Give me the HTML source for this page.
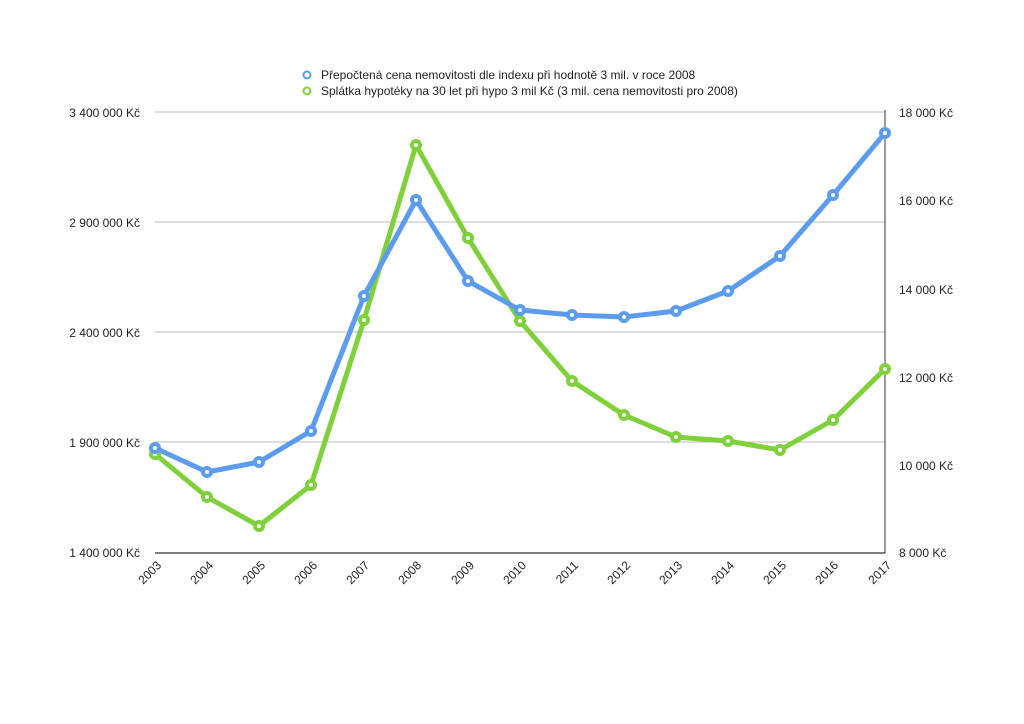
<!DOCTYPE html>
<html><head><meta charset="utf-8"><style>body{margin:0;background:#fff}svg{display:block;font-family:"Liberation Sans",sans-serif}</style></head><body>
<svg width="1024" height="724" viewBox="0 0 1024 724">
<g stroke="#bbb" stroke-width="1">
<line x1="155" y1="112" x2="885" y2="112"/><line x1="155" y1="222" x2="885" y2="222"/><line x1="155" y1="332" x2="885" y2="332"/><line x1="155" y1="442" x2="885" y2="442"/>
</g>
<line x1="155" y1="553" x2="885" y2="553" stroke="#555" stroke-width="1.5"/>
<line x1="885" y1="110" x2="885" y2="553" stroke="#333" stroke-width="1"/>
<g font-size="12" fill="#222" text-anchor="end">
<text x="140" y="117">3 400 000 Kč</text><text x="140" y="227">2 900 000 Kč</text><text x="140" y="337">2 400 000 Kč</text><text x="140" y="447">1 900 000 Kč</text><text x="140" y="557">1 400 000 Kč</text>
</g>
<g font-size="12" fill="#222">
<text x="899" y="117">18 000 Kč</text><text x="899" y="205">16 000 Kč</text><text x="899" y="294">14 000 Kč</text><text x="899" y="382">12 000 Kč</text><text x="899" y="470">10 000 Kč</text><text x="899" y="557">8 000 Kč</text>
</g>
<g font-size="12" fill="#222" text-anchor="end">
<text transform="translate(162,566) rotate(-45)">2003</text><text transform="translate(214,566) rotate(-45)">2004</text><text transform="translate(266,566) rotate(-45)">2005</text><text transform="translate(318,566) rotate(-45)">2006</text><text transform="translate(370,566) rotate(-45)">2007</text><text transform="translate(422,566) rotate(-45)">2008</text><text transform="translate(475,566) rotate(-45)">2009</text><text transform="translate(527,566) rotate(-45)">2010</text><text transform="translate(579,566) rotate(-45)">2011</text><text transform="translate(631,566) rotate(-45)">2012</text><text transform="translate(683,566) rotate(-45)">2013</text><text transform="translate(735,566) rotate(-45)">2014</text><text transform="translate(787,566) rotate(-45)">2015</text><text transform="translate(839,566) rotate(-45)">2016</text><text transform="translate(892,566) rotate(-45)">2017</text>
</g>
<polyline fill="none" stroke="#7fd13b" stroke-width="5" stroke-linejoin="round" points="155,454 207,497 259,526 311,485 364,320 416,145 468,238 520,321 572,381 624,415 676,437 728,441 780,450 833,420 885,369"/>
<polyline fill="none" stroke="#5b9bf0" stroke-width="5" stroke-linejoin="round" points="155,448 207,472 259,462 311,431 364,296 416,200 468,281 520,310 572,315 624,317 676,311 728,291 780,256 833,195 885,133"/>
<g fill="#fff" stroke="#7fd13b" stroke-width="4">
<circle cx="155" cy="454" r="4"/><circle cx="207" cy="497" r="4"/><circle cx="259" cy="526" r="4"/><circle cx="311" cy="485" r="4"/><circle cx="364" cy="320" r="4"/><circle cx="416" cy="145" r="4"/><circle cx="468" cy="238" r="4"/><circle cx="520" cy="321" r="4"/><circle cx="572" cy="381" r="4"/><circle cx="624" cy="415" r="4"/><circle cx="676" cy="437" r="4"/><circle cx="728" cy="441" r="4"/><circle cx="780" cy="450" r="4"/><circle cx="833" cy="420" r="4"/><circle cx="885" cy="369" r="4"/>
</g>
<g fill="#fff" stroke="#5b9bf0" stroke-width="4">
<circle cx="155" cy="448" r="4"/><circle cx="207" cy="472" r="4"/><circle cx="259" cy="462" r="4"/><circle cx="311" cy="431" r="4"/><circle cx="364" cy="296" r="4"/><circle cx="416" cy="200" r="4"/><circle cx="468" cy="281" r="4"/><circle cx="520" cy="310" r="4"/><circle cx="572" cy="315" r="4"/><circle cx="624" cy="317" r="4"/><circle cx="676" cy="311" r="4"/><circle cx="728" cy="291" r="4"/><circle cx="780" cy="256" r="4"/><circle cx="833" cy="195" r="4"/><circle cx="885" cy="133" r="4"/>
</g>
<circle cx="307" cy="75" r="3.5" fill="#fff" stroke="#5b9bf0" stroke-width="2"/>
<circle cx="307" cy="91" r="3.5" fill="#fff" stroke="#7fd13b" stroke-width="2"/>
<g font-size="12" fill="#222">
<text x="321" y="79">Přepočtená cena nemovitosti dle indexu při hodnotě 3 mil. v roce 2008</text>
<text x="321" y="95">Splátka hypotéky na 30 let při hypo 3 mil Kč (3 mil. cena nemovitosti pro 2008)</text>
</g>
</svg>
</body></html>
